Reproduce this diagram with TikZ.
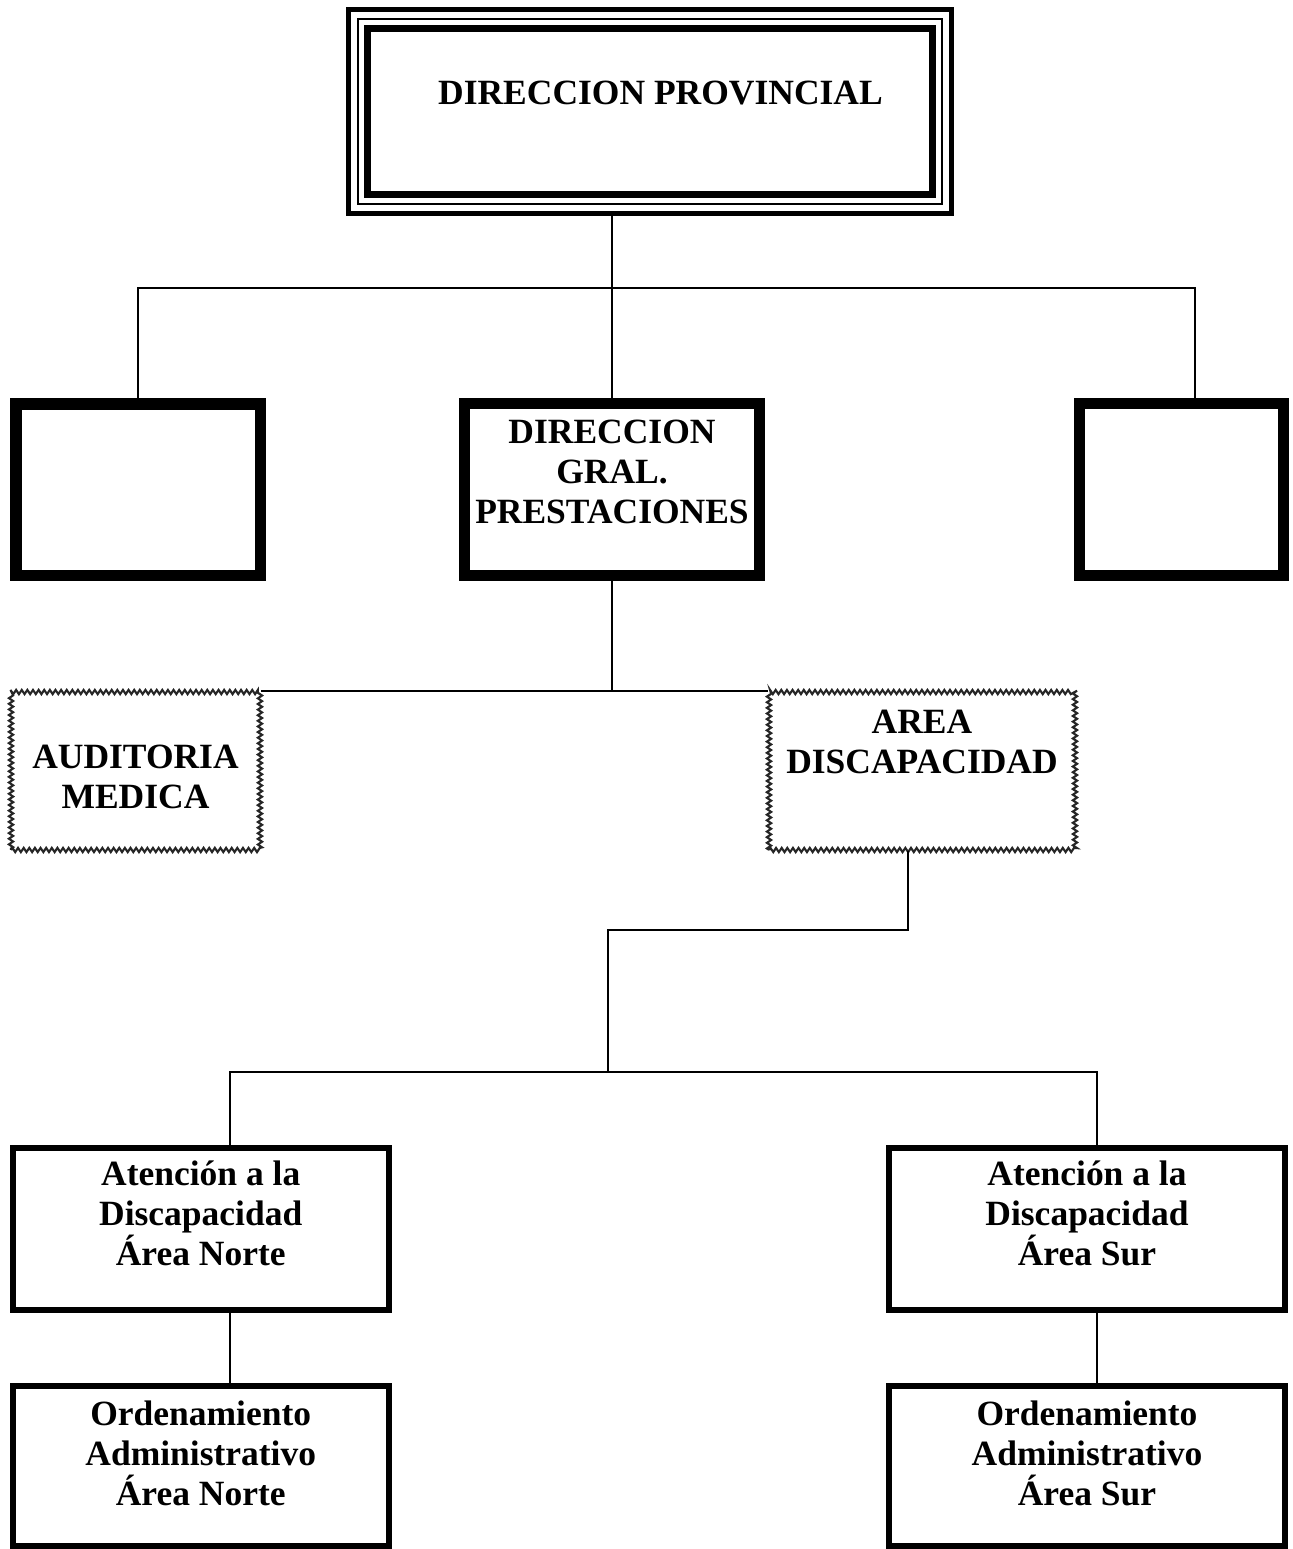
\documentclass[tikz,border=0pt]{standalone}
\usepackage{fontspec}
\setmainfont{Liberation Serif}
\usepackage{tikz}
\usetikzlibrary{positioning,calc,decorations.pathmorphing}

\begin{document}
\begin{tikzpicture}[x=0.02cm, y=-0.02cm,
    txt/.style={font=\bfseries\fontsize{20.2}{22.7}\selectfont, align=center, inner sep=0pt},
    heavybox/.style={txt, draw, line width=6.5pt},
    plainbox/.style={txt, draw, line width=3.4pt},
    roughbox/.style={txt, draw=black!85, line width=1.2pt, decorate,
        decoration={zigzag, segment length=3.2pt, amplitude=1.2pt}},
    conn/.style={line width=1pt}]
    \useasboundingbox (0,0) rectangle (1292,1549);

    % Direccion provincial (triple frame)
    \node[txt, draw, line width=1.1pt, minimum width=11.68cm, text height=1.70cm, text depth=2.0cm] (dp) at (650,111.5) {\hspace*{0.42cm}DIRECCION PROVINCIAL};
    \draw[line width=2.8pt] ([shift={(-8.5,-8.5)}]dp.north west) rectangle ([shift={(8.5,8.5)}]dp.south east);
    \draw[line width=3.8pt] ([shift={(10.5,10.5)}]dp.north west) rectangle ([shift={(-10.5,-10.5)}]dp.south east);

    % second row
    \node[heavybox, minimum width=4.89cm, minimum height=3.43cm] (e1) at (138.25,489.75) {};
    \node[heavybox, minimum width=5.9cm, text height=2.39cm, text depth=1.05cm] (dgp) at (612,489.5) {DIRECCION\\GRAL.\\PRESTACIONES};
    \node[heavybox, minimum width=4.08cm, minimum height=3.44cm] (e2) at (1181.5,489.5) {};

    \coordinate (bus1) at (612,288);
    \draw[conn] (dgp.north) -- ([yshift=-0.17cm]dp.south -| dgp.north);
    \draw[conn] (e1.north) |- (bus1) -| ([xshift=0.27cm]e2.north);

    % third row
    \node[roughbox, minimum width=4.98cm, text height=2.32cm, text depth=0.84cm] (aud) at (135.5,771) {AUDITORIA\\MEDICA};
    \node[roughbox, minimum width=6.12cm, text height=1.62cm, text depth=1.54cm] (area) at (922,771) {AREA\\DISCAPACIDAD};

    \draw[conn] (dgp.south) -- (dgp.south |- aud.north east);
    \draw[conn] (aud.north east) -- (area.north west);

    % areas norte / sur
    \node[plainbox, minimum width=7.53cm, text height=2.34cm, text depth=0.9cm] (an) at (200.75,1229) {Atención a la\\Discapacidad\\Área Norte};
    \node[plainbox, minimum width=7.92cm, text height=2.34cm, text depth=0.9cm] (as) at (1087,1229) {Atención a la\\Discapacidad\\Área Sur};
    \node[plainbox, minimum width=7.53cm, text height=2.38cm, text depth=0.82cm] (on) at (200.75,1466) {Ordenamiento\\Administrativo\\Área Norte};
    \node[plainbox, minimum width=7.92cm, text height=2.38cm, text depth=0.82cm] (os) at (1087,1466) {Ordenamiento\\Administrativo\\Área Sur};

    \coordinate (bus2) at (608,930);
    \coordinate (bus3) at (608,1072);
    \draw[conn] ([xshift=-0.28cm]area.south) |- (bus2) -- (bus3);
    \draw[conn] ([xshift=0.58cm]an.north) |- (bus3) -| ([xshift=0.2cm]as.north);
    \draw[conn] ([xshift=0.58cm]an.south) -- ([xshift=0.58cm]on.north);
    \draw[conn] ([xshift=0.2cm]as.south) -- ([xshift=0.2cm]os.north);
\end{tikzpicture}
\end{document}
